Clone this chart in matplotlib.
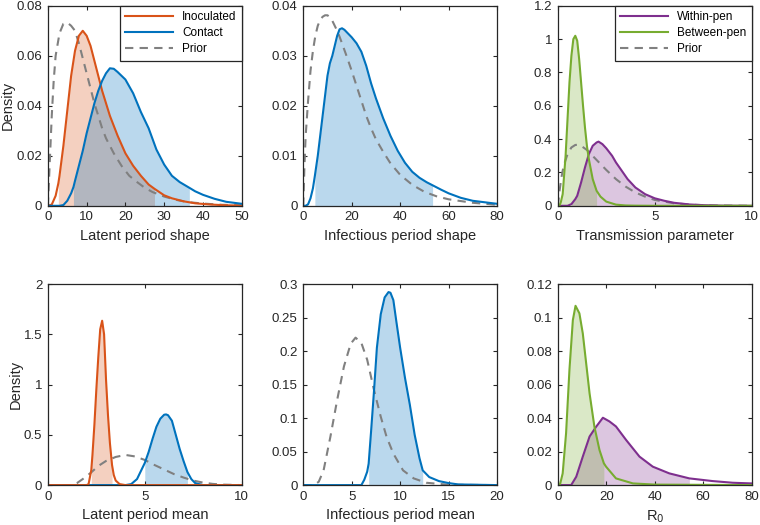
import numpy as np
import matplotlib.pyplot as plt
from matplotlib.ticker import FuncFormatter

plt.rcParams['font.family'] = ['Liberation Sans', 'DejaVu Sans']

# colours (MATLAB defaults)
c_inoc = '#D95319'
c_cont = '#0072BD'
c_within = '#7E2F8E'
c_between = '#77AC30'
c_prior = '#808080'

# --- Latent period shape ---
lps_inoc_x = [0, 1, 2, 2.7, 3, 4, 5, 6, 7, 8, 9, 10, 11, 12, 13, 14, 15, 16, 18, 20, 22, 24, 26, 27.5, 30, 32, 35, 38, 42, 46, 50]
lps_inoc_y = [0, 0.0005, 0.004, 0.009, 0.012, 0.024, 0.038, 0.052, 0.062, 0.068, 0.070, 0.068, 0.064, 0.058, 0.052, 0.046, 0.041,
              0.036, 0.028, 0.021, 0.016, 0.012, 0.0085, 0.0068, 0.0042, 0.003, 0.0018, 0.001, 0.0005, 0.0002, 0.0001]
lps_inoc_ci = [2.7, 27.5]
lps_cont_x = [0, 3, 4, 5, 6, 6.6, 7, 8, 9, 10, 11, 12, 13, 14, 15, 16, 17, 18, 19, 20, 22, 24, 26, 28, 30, 32, 34, 36.5, 38, 40, 43, 46, 50]
lps_cont_y = [0, 0, 0.0003, 0.002, 0.005, 0.0075, 0.010, 0.016, 0.022, 0.029, 0.035, 0.041, 0.046, 0.050, 0.053, 0.055, 0.0548,
              0.0535, 0.052, 0.0505, 0.045, 0.0375, 0.031, 0.0225, 0.0165, 0.012, 0.0095, 0.0072, 0.0058, 0.0044, 0.0028, 0.0016, 0.0008]
lps_cont_ci = [6.6, 36.5]
lps_prior_x = [0, 0.5, 1, 1.5, 2, 3, 4, 5, 6, 7, 8, 9, 10, 11, 12, 13, 14, 15, 17, 19, 21, 23, 25, 27, 30, 33, 36, 40, 45, 50]
lps_prior_y = [0, 0.018, 0.036, 0.050, 0.060, 0.069, 0.0728, 0.0733, 0.072, 0.070, 0.065, 0.059, 0.053, 0.047, 0.041, 0.036,
               0.031, 0.027, 0.021, 0.016, 0.012, 0.0095, 0.0072, 0.0055, 0.0037, 0.0024, 0.0015, 0.0009, 0.0004, 0.0002]

# --- Infectious period shape ---
ips_cont_x = [0, 1, 2, 3, 4, 4.8, 6, 7, 8, 9, 10, 11, 12, 13, 14, 15, 16, 17, 18, 20, 22, 24, 26, 28, 30, 33, 36, 39, 42, 45,
              48, 51, 53.4, 57, 60, 65, 70, 75, 80]
ips_cont_y = [0, 0, 0.0003, 0.0015, 0.0035, 0.006, 0.010, 0.014, 0.018, 0.022, 0.026, 0.0285, 0.030, 0.032, 0.034, 0.0353,
              0.0355, 0.0352, 0.0347, 0.0337, 0.0325, 0.0308, 0.028, 0.0245, 0.0215, 0.0175, 0.014, 0.011, 0.0086, 0.0068,
              0.0056, 0.0047, 0.0041, 0.0032, 0.0025, 0.0016, 0.001, 0.0007, 0.0004]
ips_cont_ci = [4.8, 53.4]
ips_prior_x = [0, 0.5, 1, 2, 3, 4, 5, 6, 7, 8, 9, 10, 11, 12, 13, 14, 15, 16, 18, 20, 22, 24, 26, 28, 30, 33, 36, 40, 45, 50,
               55, 60, 70, 80]
ips_prior_y = [0, 0.008, 0.014, 0.021, 0.027, 0.031, 0.034, 0.036, 0.0372, 0.0378, 0.0381, 0.0381, 0.0377, 0.037, 0.036,
               0.035, 0.0338, 0.0325, 0.0298, 0.027, 0.024, 0.021, 0.018, 0.0155, 0.0133, 0.0108, 0.0085, 0.0062, 0.0042,
               0.0028, 0.0019, 0.0013, 0.0006, 0.0002]

# --- Transmission parameter ---
tp_within_x = [0, 0.5, 0.7, 0.9, 1.0, 1.2, 1.4, 1.6, 1.8, 2.0, 2.1, 2.3, 2.5, 2.8, 3.0, 3.3, 3.6, 4.0, 4.5, 5.0, 5.5, 6.0, 6.8, 7.5, 8.5, 10]
tp_within_y = [0, 0, 0.01, 0.04, 0.06, 0.14, 0.23, 0.31, 0.36, 0.38, 0.385, 0.37, 0.345, 0.30, 0.26, 0.21, 0.16, 0.11, 0.07,
               0.045, 0.03, 0.018, 0.008, 0.004, 0.001, 0]
tp_within_ci = [0.7, 6.8]
tp_between_x = [0, 0.1, 0.15, 0.25, 0.4, 0.5, 0.6, 0.7, 0.8, 0.9, 1.0, 1.1, 1.2, 1.3, 1.4, 1.5, 1.6, 1.8, 2.0, 2.2, 2.5, 3.0, 3.5, 4, 5, 10]
tp_between_y = [0, 0.005, 0.02, 0.07, 0.3, 0.52, 0.74, 0.9, 1.0, 1.02, 0.99, 0.88, 0.74, 0.6, 0.47, 0.36, 0.28, 0.16, 0.09,
                0.055, 0.025, 0.007, 0.002, 0.0008, 0, 0]
tp_between_ci = [0.15, 2.0]
tp_prior_x = [0, 0.05, 0.1, 0.2, 0.3, 0.5, 0.7, 0.9, 1.0, 1.2, 1.5, 2.0, 2.5, 3.0, 3.5, 4.0, 4.5, 5.0, 6.0, 7.0, 8.0, 10]
tp_prior_y = [0, 0.05, 0.1, 0.18, 0.24, 0.31, 0.35, 0.365, 0.366, 0.36, 0.335, 0.275, 0.215, 0.16, 0.115, 0.08, 0.055, 0.035,
              0.015, 0.006, 0.002, 0]

# --- Latent period mean ---
lpm_inoc_x = [0, 2.0, 2.1, 2.24, 2.3, 2.4, 2.5, 2.6, 2.7, 2.8, 2.9, 3.0, 3.1, 3.2, 3.31, 3.4, 3.5, 3.7, 4, 10]
lpm_inoc_y = [0, 0, 0.01, 0.15, 0.3, 0.6, 0.95, 1.27, 1.55, 1.635, 1.5, 1.05, 0.7, 0.42, 0.2, 0.1, 0.045, 0.01, 0, 0]
lpm_inoc_ci = [2.24, 3.31]
lpm_cont_x = [0, 4.0, 4.3, 4.6, 4.9, 5.0, 5.2, 5.4, 5.6, 5.8, 6.0, 6.1, 6.2, 6.4, 6.6, 6.8, 7.0, 7.2, 7.4, 7.6, 8, 10]
lpm_cont_y = [0, 0, 0.01, 0.06, 0.18, 0.22, 0.33, 0.46, 0.58, 0.66, 0.70, 0.703, 0.695, 0.64, 0.5, 0.36, 0.24, 0.13, 0.06, 0.02, 0, 0]
lpm_cont_ci = [5.0, 7.2]
lpm_prior_x = [0, 1.2, 1.5, 1.8, 2.2, 2.6, 3.0, 3.5, 4.0, 4.5, 5.0, 5.5, 6.0, 6.5, 7.0, 7.5, 8.0, 8.5, 9, 10]
lpm_prior_y = [0, 0, 0.02, 0.06, 0.12, 0.19, 0.24, 0.28, 0.30, 0.285, 0.25, 0.2, 0.155, 0.11, 0.075, 0.045, 0.025, 0.012, 0.005, 0]

# --- Infectious period mean ---
ipm_cont_x = [0, 6.0, 6.3, 6.6, 6.75, 7.0, 7.3, 7.6, 8.0, 8.4, 8.8, 9.0, 9.3, 9.6, 10.0, 10.5, 11.0, 11.5, 12.0, 12.33, 13.0,
              14.0, 15.0, 16, 20]
ipm_cont_y = [0, 0, 0.008, 0.02, 0.032, 0.08, 0.14, 0.205, 0.255, 0.28, 0.288, 0.287, 0.276, 0.245, 0.205, 0.16, 0.12, 0.075,
              0.04, 0.022, 0.012, 0.006, 0.003, 0.001, 0]
ipm_cont_ci = [6.75, 12.33]
ipm_prior_x = [0, 1.1, 1.6, 2.1, 2.8, 3.5, 4.2, 4.9, 5.4, 6.0, 6.6, 7.3, 8.0, 8.6, 9.3, 10.3, 11.4, 12.7, 15, 20]
ipm_prior_y = [0, 0, 0.005, 0.022, 0.072, 0.127, 0.177, 0.211, 0.22, 0.212, 0.187, 0.142, 0.102, 0.072, 0.047, 0.022, 0.01,
               0.0035, 0.0005, 0]

# --- R0 ---
r0_within_x = [0, 5.5, 7.6, 10.3, 13.1, 15.8, 18.6, 21.3, 24, 28.2, 33.7, 39.2, 46, 54.3, 63.9, 72.2, 80]
r0_within_y = [0, 0, 0.005, 0.017, 0.029, 0.0348, 0.0402, 0.038, 0.035, 0.0269, 0.017, 0.011, 0.007, 0.004, 0.0024, 0.0014, 0.001]
r0_within_ci = [5.5, 54.3]
r0_between_x = [0, 0.7, 1.0, 2.0, 3.4, 4.8, 6.2, 7.3, 8.9, 10.3, 11.7, 13.1, 15.1, 17.2, 19.0, 19.9, 24, 31, 40, 80]
r0_between_y = [0, 0, 0.001, 0.007, 0.031, 0.069, 0.0985, 0.107, 0.1025, 0.0905, 0.0726, 0.0547, 0.0348, 0.0209, 0.013,
                0.011, 0.004, 0.001, 0.0003, 0]
r0_between_ci = [1.0, 19.0]


def density(ax, x, y, ci, color, label=None):
    x = np.array(x)
    y = np.array(y)
    if ci is not None:
        m = (x >= ci[0]) & (x <= ci[1])
        ax.fill_between(x[m], y[m], 0, color=color, alpha=0.27, linewidth=0)
    ax.plot(x, y, color=color, lw=1.5, label=label)


def prior(ax, x, y):
    ax.plot(x, y, color=c_prior, lw=1.5, ls=(0, (4, 3)), label='Prior')


def style(ax, xlim, xticks, ylim, yticks, xlabel, ylabel=None):
    ax.set_xlim(xlim)
    ax.set_ylim(ylim)
    ax.set_xticks(xticks)
    ax.set_yticks(yticks)
    fmt = FuncFormatter(lambda v, _: f'{v:g}')
    ax.xaxis.set_major_formatter(fmt)
    ax.yaxis.set_major_formatter(fmt)
    ax.tick_params(direction='in', top=True, right=True, length=3, width=0.8,
                   labelsize=9.5, colors='#262626', pad=4)
    for s in ax.spines.values():
        s.set_color('#262626')
        s.set_linewidth(0.9)
    ax.set_xlabel(xlabel, fontsize=10.5, color='#262626', labelpad=4)
    if ylabel:
        ax.set_ylabel(ylabel, fontsize=10.5, color='#262626', labelpad=1)


def legend(ax):
    h, l = ax.get_legend_handles_labels()
    leg = ax.legend([h[1], h[2], h[0]], [l[1], l[2], l[0]], loc='upper right', fontsize=8.5, handlelength=4,
                    borderaxespad=0, fancybox=False, edgecolor='#262626', framealpha=1, labelspacing=0.35,
                    borderpad=0.45)
    leg.get_frame().set_linewidth(0.9)


fig = plt.figure(figsize=(7.6, 5.25), dpi=100)
lefts = [0.063, 0.399, 0.734]
w = 0.255
ax1 = fig.add_axes([lefts[0], 0.608, w, 0.381])
ax2 = fig.add_axes([lefts[1], 0.608, w, 0.381])
ax3 = fig.add_axes([lefts[2], 0.608, w, 0.381])
ax4 = fig.add_axes([lefts[0], 0.076, w, 0.383])
ax5 = fig.add_axes([lefts[1], 0.076, w, 0.383])
ax6 = fig.add_axes([lefts[2], 0.076, w, 0.383])

# panel 1
prior(ax1, lps_prior_x, lps_prior_y)
density(ax1, lps_inoc_x, lps_inoc_y, lps_inoc_ci, c_inoc, 'Inoculated')
density(ax1, lps_cont_x, lps_cont_y, lps_cont_ci, c_cont, 'Contact')
style(ax1, (0, 50), np.arange(0, 51, 10), (0, 0.08), np.arange(0, 0.081, 0.02), 'Latent period shape', 'Density')
legend(ax1)

# panel 2
prior(ax2, ips_prior_x, ips_prior_y)
density(ax2, ips_cont_x, ips_cont_y, ips_cont_ci, c_cont)
style(ax2, (0, 80), np.arange(0, 81, 20), (0, 0.04), np.arange(0, 0.041, 0.01), 'Infectious period shape')

# panel 3
prior(ax3, tp_prior_x, tp_prior_y)
density(ax3, tp_within_x, tp_within_y, tp_within_ci, c_within, 'Within-pen')
density(ax3, tp_between_x, tp_between_y, tp_between_ci, c_between, 'Between-pen')
style(ax3, (0, 10), [0, 5, 10], (0, 1.2), np.arange(0, 1.21, 0.2), 'Transmission parameter')
legend(ax3)

# panel 4
prior(ax4, lpm_prior_x, lpm_prior_y)
density(ax4, lpm_cont_x, lpm_cont_y, lpm_cont_ci, c_cont)
density(ax4, lpm_inoc_x, lpm_inoc_y, lpm_inoc_ci, c_inoc)
style(ax4, (0, 10), [0, 5, 10], (0, 2), np.arange(0, 2.01, 0.5), 'Latent period mean', 'Density')

# panel 5
prior(ax5, ipm_prior_x, ipm_prior_y)
density(ax5, ipm_cont_x, ipm_cont_y, ipm_cont_ci, c_cont)
style(ax5, (0, 20), np.arange(0, 21, 5), (0, 0.3), np.arange(0, 0.301, 0.05), 'Infectious period mean')

# panel 6
density(ax6, r0_within_x, r0_within_y, r0_within_ci, c_within)
density(ax6, r0_between_x, r0_between_y, r0_between_ci, c_between)
style(ax6, (0, 80), np.arange(0, 81, 20), (0, 0.12), np.arange(0, 0.121, 0.02), 'R$_0$')

fig.savefig('out.png', dpi=100)
